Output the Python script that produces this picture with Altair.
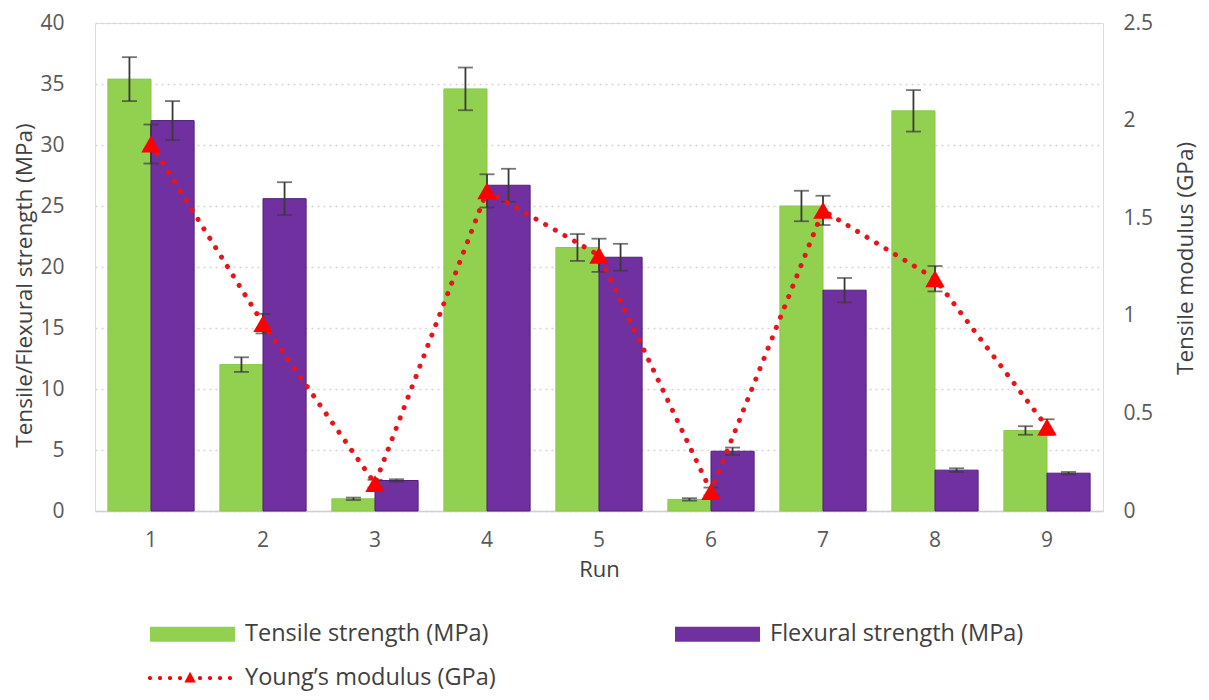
import altair as alt
import pandas as pd

# ---------------- data ----------------
runs = ["1", "2", "3", "4", "5", "6", "7", "8", "9"]
tensile = [35.4, 12.0, 1.0, 34.6, 21.6, 0.95, 25.0, 32.8, 6.6]
tensile_err = [1.8, 0.6, 0.1, 1.75, 1.1, 0.1, 1.25, 1.7, 0.35]
flexural = [32.0, 25.6, 2.5, 26.7, 20.8, 4.9, 18.1, 3.35, 3.1]
flexural_err = [1.6, 1.35, 0.1, 1.35, 1.1, 0.3, 1.0, 0.15, 0.1]
modulus = [1.88, 0.96, 0.14, 1.64, 1.31, 0.10, 1.54, 1.19, 0.43]
modulus_err = [0.1, 0.05, 0.02, 0.085, 0.085, 0.02, 0.075, 0.065, 0.04]

TENSILE = "Tensile strength (MPa)"
FLEXURAL = "Flexural strength (MPa)"
YOUNG = "Young’s modulus (GPa)"
# legend order (column-major in a 2-column legend): Tensile | Flexural on row 1, Young's on row 2
legend_order = [TENSILE, YOUNG, FLEXURAL]
legend_fill = ["#92d050", "#ff0000", "#7030a0"]
legend_edge = ["#8cc84b", "#ff0000", "#4f1f7a"]
bar_series = [TENSILE, FLEXURAL]
left_ticks = [0, 5, 10, 15, 20, 25, 30, 35, 40]
right_ticks = [0, 0.5, 1, 1.5, 2, 2.5]

FONT = "Open Sans"
LABEL_COLOR = "#595959"
TITLE_COLOR = "#404040"
ERR_COLOR = "#3a3a3a"
LINE_RED = "#e8141b"

# ---------------- tables ----------------
rows = []
for i, r in enumerate(runs):
    rows.append({"run": r, "series": TENSILE, "value": tensile[i],
                 "lo": tensile[i] - tensile_err[i], "hi": tensile[i] + tensile_err[i]})
    rows.append({"run": r, "series": FLEXURAL, "value": flexural[i],
                 "lo": flexural[i] - flexural_err[i], "hi": flexural[i] + flexural_err[i]})
bars_df = pd.DataFrame(rows)

mod_df = pd.DataFrame({
    "run": runs,
    "series": [YOUNG] * len(runs),
    "modulus": modulus,
    "lo": [m - e for m, e in zip(modulus, modulus_err)],
    "hi": [m + e for m, e in zip(modulus, modulus_err)],
})

# ---------------- legend symbol paths (unit = sqrt(symbolSize)/2 px) ----------------
def circle(cx, cy, r):
    return (f"M{cx - r:.3f},{cy:.3f}A{r},{r} 0 1,0 {cx + r:.3f},{cy:.3f}"
            f"A{r},{r} 0 1,0 {cx - r:.3f},{cy:.3f}Z")

swatch_path = "M-1,-0.5H4.67V0.5H-1Z"
dot_xs = [-1.0, -0.333, 0.333, 1.0, 2.333, 3.0, 3.667, 4.333]
line_path = "".join(circle(x, 0, 0.14) for x in dot_xs) + "M1.67,-0.42L2.05,0.3L1.29,0.3Z"
symbol_expr = f"datum.value === '{YOUNG}' ? '{line_path}' : '{swatch_path}'"

# ---------------- shared x ----------------
x_enc = alt.X(
    "run:N", sort=runs,
    scale=alt.Scale(paddingInner=0.23, paddingOuter=0.115),
    axis=alt.Axis(title="Run", labelAngle=0, ticks=False, domain=True,
                  domainColor="#d0d0d0", domainWidth=1.5, grid=False,
                  labelFont=FONT, labelFontSize=21, labelColor=LABEL_COLOR,
                  labelPadding=18, titleFont=FONT, titleFontSize=22,
                  titleFontWeight="normal", titleColor=TITLE_COLOR, titlePadding=9),
)
xoff = alt.XOffset("series:N", sort=bar_series,
                   scale=alt.Scale(domain=bar_series, paddingInner=0, paddingOuter=0))

y_left_scale = alt.Scale(domain=[0, 40], nice=False)
y_left_axis = alt.Axis(
    title="Tensile/Flexural strength (MPa)", values=left_ticks, grid=True,
    gridDash=[2, 4], gridColor="#d4d4d4", gridWidth=1.5, domain=False, ticks=False,
    labelFont=FONT, labelFontSize=21, labelColor=LABEL_COLOR, labelPadding=31,
    titleFont=FONT, titleFontSize=22.5, titleFontWeight="normal", titleColor=TITLE_COLOR,
    titlePadding=3, titleY=262,
)

bars = alt.Chart(bars_df).mark_bar(strokeWidth=1).encode(
    x=x_enc,
    xOffset=xoff,
    y=alt.Y("value:Q", scale=y_left_scale, axis=y_left_axis),
    color=alt.Color(
        "series:N",
        scale=alt.Scale(domain=legend_order, range=legend_fill),
        legend=alt.Legend(
            title=None, orient="none", legendX=55, legendY=596, columns=2,
            columnPadding=179, rowPadding=17, symbolSize=900,
            symbolType=alt.ExprRef(expr=symbol_expr), symbolStrokeWidth=0,
            symbolOpacity=1, labelOffset=65, labelFont=FONT, labelFontSize=23.5,
            labelColor=TITLE_COLOR, labelLimit=400,
        ),
    ),
    stroke=alt.Stroke("series:N", scale=alt.Scale(domain=legend_order, range=legend_edge),
                      legend=None),
)

bar_err = alt.Chart(bars_df).mark_rule(color=ERR_COLOR, strokeWidth=1.8).encode(
    x=alt.X("run:N", sort=runs), xOffset=xoff,
    y=alt.Y("lo:Q"), y2="hi:Q",
)
bar_cap_lo = alt.Chart(bars_df).mark_tick(color=ERR_COLOR, size=15, thickness=1.8,
                                         orient="horizontal").encode(
    x=alt.X("run:N", sort=runs), xOffset=xoff, y="lo:Q")
bar_cap_hi = alt.Chart(bars_df).mark_tick(color=ERR_COLOR, size=15, thickness=1.8,
                                         orient="horizontal").encode(
    x=alt.X("run:N", sort=runs), xOffset=xoff, y="hi:Q")

left = alt.layer(bars, bar_err, bar_cap_lo, bar_cap_hi)

y_right_scale = alt.Scale(domain=[0, 2.5], nice=False)
y_right_axis = alt.Axis(
    title="Tensile modulus (GPa)", orient="right", values=right_ticks, format="~g",
    grid=False, domain=False, ticks=False,
    labelFont=FONT, labelFontSize=21, labelColor=LABEL_COLOR, labelPadding=20,
    titleFont=FONT, titleFontSize=22.5, titleFontWeight="normal", titleColor=TITLE_COLOR,
    titlePadding=45, titleY=235, titleAngle=270,
)

mod_line = alt.Chart(mod_df).mark_line(
    color=LINE_RED, strokeWidth=5, strokeDash=[0.1, 11], strokeCap="round"
).encode(
    x=alt.X("run:N", sort=runs),
    y=alt.Y("modulus:Q", scale=y_right_scale, axis=y_right_axis),
)
mod_err = alt.Chart(mod_df).mark_rule(color=ERR_COLOR, strokeWidth=1.8).encode(
    x=alt.X("run:N", sort=runs), y="lo:Q", y2="hi:Q")
mod_cap_lo = alt.Chart(mod_df).mark_tick(color=ERR_COLOR, size=15, thickness=1.8,
                                        orient="horizontal").encode(
    x=alt.X("run:N", sort=runs), y="lo:Q")
mod_cap_hi = alt.Chart(mod_df).mark_tick(color=ERR_COLOR, size=15, thickness=1.8,
                                        orient="horizontal").encode(
    x=alt.X("run:N", sort=runs), y="hi:Q")
mod_pts = alt.Chart(mod_df).mark_point(
    shape="triangle-up", filled=True, size=380, color="#ff0000", opacity=1
).encode(x=alt.X("run:N", sort=runs), y="modulus:Q")

right = alt.layer(mod_err, mod_cap_lo, mod_cap_hi, mod_line, mod_pts)

chart = alt.layer(left, right).resolve_scale(y="independent").properties(
    width=1008, height=488,
    autosize=alt.AutoSizeParams(type="none"),
    padding={"left": 87, "top": 15, "right": 98, "bottom": 181},
).configure_view(stroke=None).configure(background="white")

chart.save("out.html", embed_options={"renderer": "svg", "actions": False})
